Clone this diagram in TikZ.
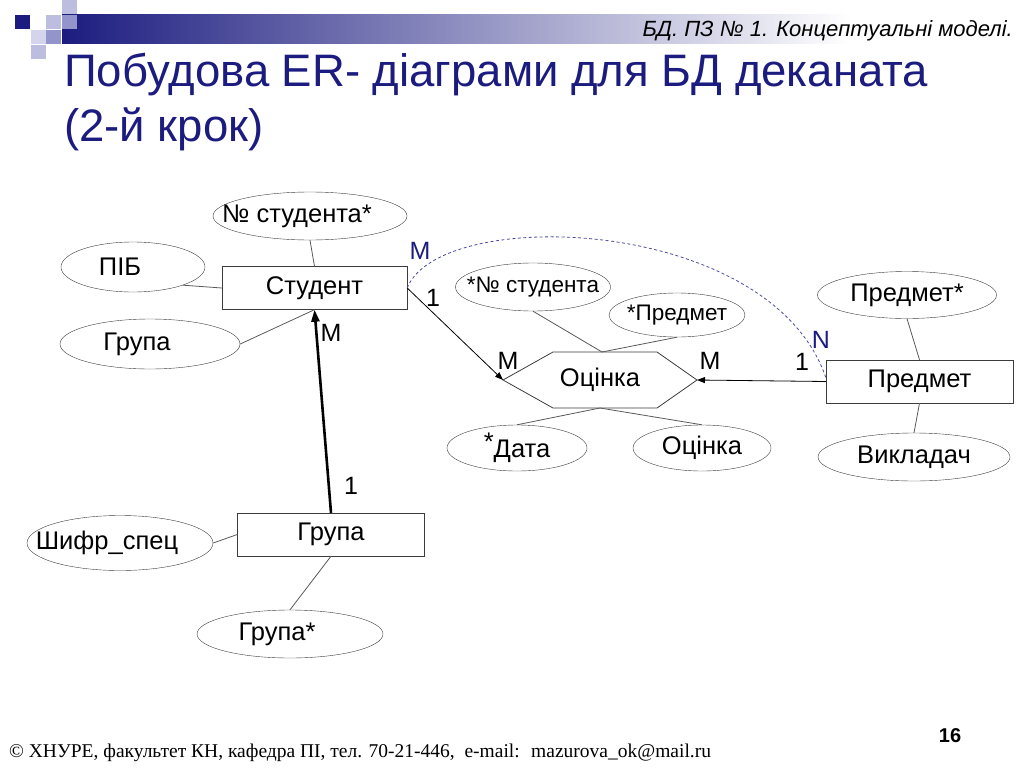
\documentclass[tikz,border=0pt]{standalone}
\usepackage{fontspec}
\setmainfont{Liberation Sans}
\newfontfamily\footfont{Liberation Serif}
\usetikzlibrary{arrows.meta,positioning,shapes.geometric}
\definecolor{cNavy}{HTML}{1C1C80}
\definecolor{cEdge}{HTML}{3C3C3C}
\definecolor{cDash}{HTML}{4A4AA0}
\definecolor{cSqPale}{HTML}{D4D4EC}
\definecolor{cSqLight}{HTML}{BDBDE0}
\definecolor{cSqMid}{HTML}{9494CC}
\tikzset{
  ent/.style  ={draw=cEdge,fill=white,inner sep=0pt,minimum height=43pt,
                font=\fontsize{25.5}{28}\selectfont},
  attr/.style ={ellipse,draw=cEdge,inner sep=0pt,font=\fontsize{25.5}{28}\selectfont,
                execute at begin node={\hbox to 0pt\bgroup\hss},
                execute at end node={\hss\egroup}},
  rattr/.style={attr,font=\fontsize{22.5}{25}\selectfont},
  lnk/.style  ={draw=cEdge!85,line width=0.8pt},
  sig/.style  ={-{Triangle[length=8pt,width=6pt]},draw=black,line width=0.8pt},
  card/.style ={font=\fontsize{25}{28}\selectfont,inner sep=0pt},
  cardb/.style={card,text=cNavy},
}
\newcommand\lft[1]{\hspace*{-26pt}#1}

\begin{document}
\begin{tikzpicture}[x=1pt,y=-1pt]
\useasboundingbox (0,0) rectangle (1024,768);

% slide header: squares and the fading bar
\shade[left color=cNavy,right color=white] (62,15) rectangle (850,44);
\fill[cSqLight] (62,0) rectangle (77,14);
\fill[cNavy]    (15,15) rectangle (30,29);
\fill[cSqLight] (46,15) rectangle (61,29);
\fill[cSqMid]   (62,15) rectangle (77,29);
\fill[cSqPale]  (31,30) rectangle (46,44);
\fill[cSqMid]   (46,30) rectangle (61,44);
\fill[cSqLight] (31,45) rectangle (46,59);
\node[anchor=base east,inner sep=0pt,font=\fontsize{22}{24}\selectfont\itshape]
  (topic) at (1013,37) {БД. ПЗ № 1. Концептуальні моделі.};

\node[anchor=base west,inner sep=0pt,text=cNavy,font=\fontsize{45.5}{50}\selectfont]
  (title1) at (64,86) {Побудова ER- діаграми для БД деканата};
\node[anchor=base west,inner sep=0pt,text=cNavy,font=\fontsize{45.5}{50}\selectfont]
  (title2) at (64,141) {(2-й крок)};

% entities
\node[ent,minimum width=185pt] (student) at (314.5,288) {Студент};
\node[ent,minimum width=187pt] (group)   at (331,534.5) {Група};
\node[ent,minimum width=187pt] (subj)    at (919.5,381.5) {Предмет};

% attributes
\node[attr,minimum width=194pt,minimum height=48pt] (nst)   at (310,216) {\lft{№ студента*}};
\node[attr,minimum width=144pt,minimum height=50pt] (pib)   at (133,267) {\lft{ПІБ}};
\node[attr,minimum width=180pt,minimum height=50pt] (grA)   at (150,344) {\lft{Група}};
\node[attr,minimum width=186pt,minimum height=55pt] (shifr) at (120,543) {\lft{Шифр\_спец}};
\node[attr,minimum width=186pt,minimum height=48pt] (grK)   at (290,634) {\lft{Група*}};
\node[attr,minimum width=179pt,minimum height=47pt] (psub)  at (907,295) {Предмет*};
\node[attr,minimum width=192pt,minimum height=48pt] (lect)  at (914,457) {Викладач};
\node[rattr,minimum width=155pt,minimum height=48pt] (rnst) at (533,287) {*№ студента};
\node[rattr,minimum width=136pt,minimum height=44pt] (rsubj) at (677,315) {*Предмет};
\node[attr,minimum width=140pt,minimum height=46pt] (date)  at (517,448) {\raisebox{7pt}{*}Дата};
\node[attr,minimum width=138pt,minimum height=46pt] (mark)  at (702,448) {Оцінка};

% relationship (hexagon)
\coordinate (hexW) at (503,380);
\coordinate (hexE) at (697,380);
\coordinate (hexT) at (602,352);
\coordinate (hexB) at (600,408);
\draw[draw=cEdge,line width=0.8pt] (hexW) -- (553,352) -- (657,352) -- (hexE)
  -- (657,408) -- (553,408) -- cycle;
\node[card,font=\fontsize{25.5}{28}\selectfont] (ocinka) at (600,380) {Оцінка};

% attribute links
\draw[lnk] (nst.south) -- (student.north);
\draw[lnk] (pib.-20) -- (student.west);
\draw[lnk] (grA.east) -- (student.south);
\draw[lnk] (shifr.east) -- (group.west);
\draw[lnk] (grK.north) -- (group.south);
\draw[lnk] (rnst.south) -- (hexT);
\draw[lnk] (rsubj.south) -- (hexT);
\draw[lnk] (hexB) -- (date.north);
\draw[lnk] (hexB) -- (mark.north);
\draw[lnk] (psub.south) -- (subj.north);
\draw[lnk] (subj.south) -- (lect.north);

% relationships
\draw[-{Triangle[length=12pt,width=8pt]},line width=2.6pt] (group.north) -- (student.south);
\draw[sig] (student.east) -- (hexW);
\draw[sig] (subj.west) -- (hexE);
\draw[draw=cDash,dashed,dash pattern=on 3pt off 2.5pt,line width=0.8pt] (student.east)
  .. controls (440,205) and (770,215) .. ([yshift=4pt]subj.west);

% cardinalities
\node[card]  (cM1) at (331,333) {M};
\node[card]  (c11) at (351,486) {1};
\node[card]  (c12) at (433,298) {1};
\node[card]  (cM2) at (508,361) {M};
\node[card]  (cM3) at (710,361) {M};
\node[card]  (c13) at (802,362) {1};
\node[cardb] (cM4) at (420,251) {M};
\node[cardb] (cN)  at (821,340) {N};

% footer
\node[anchor=base west,inner sep=0pt,font=\footfont\fontsize{19.5}{22}\selectfont]
  (foot) at (9,757) {© ХНУРЕ, факультет КН, кафедра ПІ, тел. 70-21-446,~ e-mail:~ mazurova\_ok@mail.ru};
\node[anchor=base,inner sep=0pt,font=\fontsize{20}{22}\selectfont\bfseries]
  (page) at (950,742) {16};
\end{tikzpicture}
\end{document}
